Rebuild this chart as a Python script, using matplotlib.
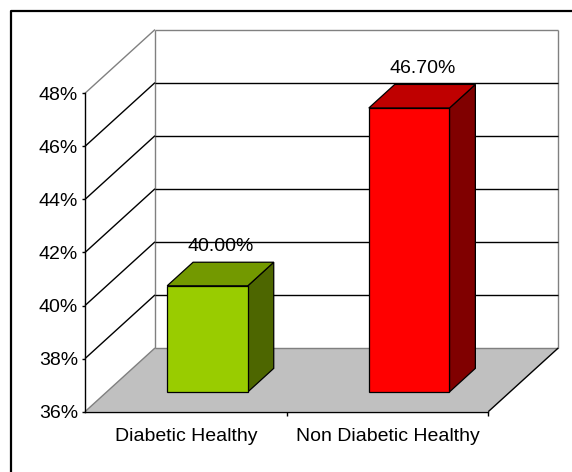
import matplotlib
matplotlib.use("Agg")
import matplotlib.pyplot as plt
from matplotlib.patches import Polygon
from matplotlib.lines import Line2D
from matplotlib.transforms import IdentityTransform
from matplotlib.ticker import FixedLocator, NullFormatter, FuncFormatter

plt.rcParams['font.family'] = ['Liberation Sans', 'DejaVu Sans']

categories = ["Diabetic Healthy", "Non Diabetic Healthy"]
values = [40.0, 46.7]
y_ticks = [36, 38, 40, 42, 44, 46, 48]
front_colors = ["#99CC00", "#FF0000"]
top_colors = ["#739900", "#BF0000"]
side_colors = ["#4D6600", "#800000"]

FONT = 14

fig = plt.figure(figsize=(5.72, 4.72), dpi=100)
fig.patch.set_facecolor("white")
ax = fig.add_axes([0.1486, 0.1278, 0.7050, 0.6746])
ax.set_xlim(0, len(categories))
ax.set_ylim(y_ticks[0], y_ticks[-1])
ax.patch.set_visible(False)

# oblique depth of the 3-D box, in pixels
DX, DY = 70.0, 63.7
BAR_D0, BAR_D1 = 0.31, 0.68
BAR_W = 0.4
ymin, ymax = y_ticks[0], y_ticks[-1]
ncat = len(categories)


def proj(x, y, d):
    px, py = ax.transData.transform((x, y))
    return (px + d * DX, py + d * DY)


def seg(p, q, color="black", lw=1.0, z=1):
    ln = Line2D([p[0], q[0]], [p[1], q[1]], color=color, lw=lw,
                transform=IdentityTransform(), zorder=z, clip_on=False,
                solid_capstyle="butt")
    ax.add_artist(ln)


def face(pts, color, z):
    pg = Polygon(pts, closed=True, facecolor=color, edgecolor="black",
                 lw=0.9, transform=IdentityTransform(), zorder=z,
                 clip_on=False, joinstyle="miter")
    ax.add_artist(pg)


# floor
floor = Polygon([proj(0, ymin, 0), proj(ncat, ymin, 0),
                 proj(ncat, ymin, 1), proj(0, ymin, 1)],
                closed=True, facecolor="#C0C0C0", edgecolor="none",
                transform=IdentityTransform(), zorder=0.5, clip_on=False)
ax.add_artist(floor)
seg(proj(0, ymin, 0), proj(0, ymin, 1), "#808080", 1.0, 0.8)
seg(proj(0, ymin, 1), proj(ncat, ymin, 1), "#808080", 1.0, 0.8)
seg(proj(ncat, ymin, 0), proj(ncat, ymin, 1), "black", 1.0, 0.8)

# gridlines on the side and back walls
for v in y_ticks[1:-1]:
    seg(proj(0, v, 0), proj(0, v, 1), "black", 1.0, 0.7)
    seg(proj(0, v, 1), proj(ncat, v, 1), "black", 1.0, 0.7)

# wall outline
seg(proj(0, ymax, 0), proj(0, ymax, 1), "#808080", 1.0, 0.6)
seg(proj(0, ymax, 1), proj(ncat, ymax, 1), "#808080", 1.0, 0.6)
seg(proj(0, ymin, 1), proj(0, ymax, 1), "#808080", 1.0, 0.6)
seg(proj(ncat, ymin, 1), proj(ncat, ymax, 1), "#808080", 1.0, 0.6)

# bars
for i, v in enumerate(values):
    x0 = i + 0.5 - BAR_W / 2
    x1 = x0 + BAR_W
    face([proj(x1, ymin, BAR_D0), proj(x1, ymin, BAR_D1),
          proj(x1, v, BAR_D1), proj(x1, v, BAR_D0)], side_colors[i], 2)
    face([proj(x0, v, BAR_D0), proj(x1, v, BAR_D0),
          proj(x1, v, BAR_D1), proj(x0, v, BAR_D1)], top_colors[i], 2)
    face([proj(x0, ymin, BAR_D0), proj(x1, ymin, BAR_D0),
          proj(x1, v, BAR_D0), proj(x0, v, BAR_D0)], front_colors[i], 2)
    lx, ly = proj(i + 0.5, v, 0.5)
    ax.text(lx, ly + 22.5, f"{v:.2f}%", transform=IdentityTransform(),
            ha="center", va="baseline", fontsize=FONT, color="black",
            zorder=3)

# front axes
for side in ["top", "right"]:
    ax.spines[side].set_visible(False)
for side in ["left", "bottom"]:
    ax.spines[side].set_linewidth(1.0)
    ax.spines[side].set_zorder(4)

ax.yaxis.set_major_locator(FixedLocator(y_ticks))
ax.yaxis.set_major_formatter(FuncFormatter(lambda v, _: f"{v:.0f}%"))
ax.tick_params(axis="y", which="major", length=2, width=1.0, pad=3,
               labelsize=FONT, direction="out")

ax.xaxis.set_major_locator(FixedLocator(list(range(1, ncat + 1))))
ax.xaxis.set_major_formatter(NullFormatter())
ax.xaxis.set_minor_locator(FixedLocator([i + 0.5 for i in range(ncat)]))
ax.xaxis.set_minor_formatter(FuncFormatter(lambda v, _: categories[int(v)]))
ax.tick_params(axis="x", which="major", length=3, width=1.0, direction="out")
ax.tick_params(axis="x", which="minor", length=0, pad=11.5, labelsize=FONT)

# chart frame
fx, fy = 10.7 / 572, 1 - 10.5 / 472
fig.add_artist(Line2D([fx, fx, 1.02], [-0.02, fy, fy], color="black",
                      lw=1.6, transform=fig.transFigure))

fig.savefig("out.png", dpi=100)
